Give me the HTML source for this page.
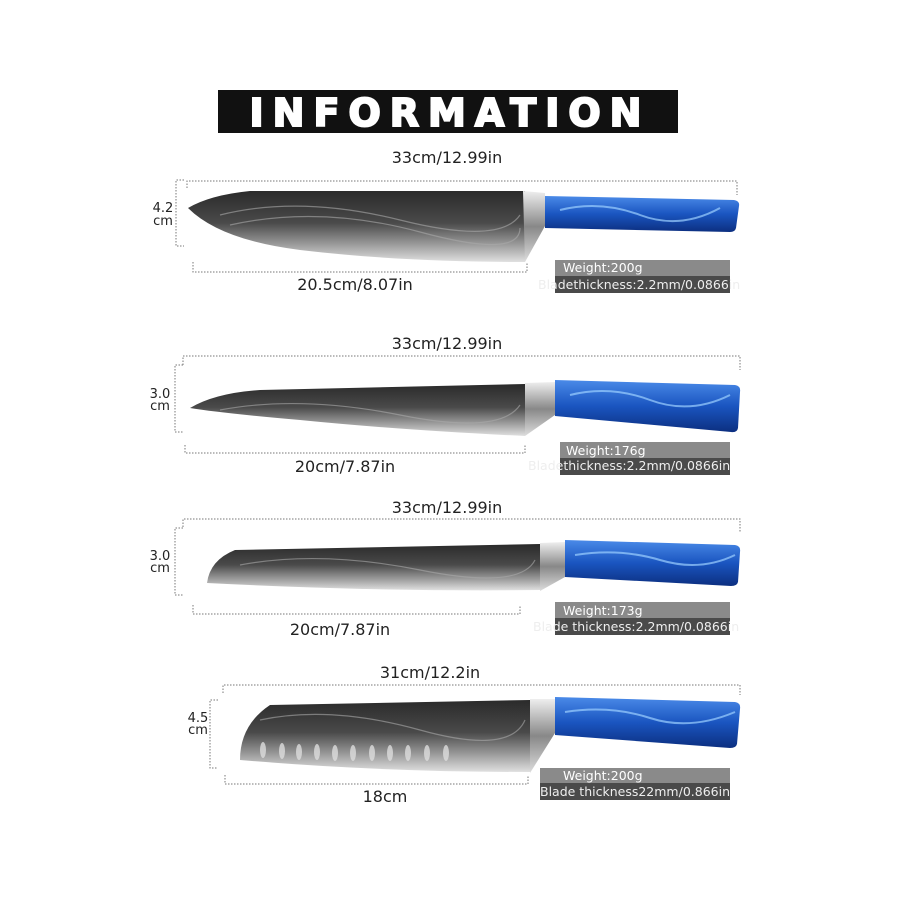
<!DOCTYPE html>
<html><head><meta charset="utf-8"><style>
html,body{margin:0;padding:0;background:#fff;width:900px;height:900px;overflow:hidden}
text{font-family:"DejaVu Sans","Liberation Sans",sans-serif}
</style></head><body>
<svg width="900" height="900" viewBox="0 0 900 900" xmlns="http://www.w3.org/2000/svg">
<defs>
<linearGradient id="bl" x1="0" y1="0" x2="0" y2="1">
<stop offset="0" stop-color="#2a2a2a"/><stop offset="0.45" stop-color="#4a4a4a"/><stop offset="0.75" stop-color="#9a9a9a"/><stop offset="1" stop-color="#e0e0e0"/></linearGradient>
<linearGradient id="hd" x1="0" y1="0" x2="0" y2="1">
<stop offset="0" stop-color="#4a8ae8"/><stop offset="0.5" stop-color="#1a55c0"/><stop offset="1" stop-color="#0c2f80"/></linearGradient>
<linearGradient id="bo" x1="0" y1="0" x2="0" y2="1">
<stop offset="0" stop-color="#eee"/><stop offset="0.5" stop-color="#888"/><stop offset="1" stop-color="#ddd"/></linearGradient>
</defs>
<rect x="218" y="90" width="460" height="43" fill="#111"/>
<text x="450" y="126" text-anchor="middle" fill="#fff" font-size="38" font-weight="900" letter-spacing="9" stroke="#fff" stroke-width="2">INFORMATION</text>

<g fill="none" stroke="#777" stroke-width="1" stroke-dasharray="1.5,1.5">
<path d="M187 188V181H737V195"/><path d="M184 180H176V246H184"/><path d="M193 262V272H527V262"/>
<path d="M183 365V356H740V370"/><path d="M183 365H175V432H183"/><path d="M185 445V453H525V445"/>
<path d="M183 527V519H740V533"/><path d="M183 528H175V595H183"/><path d="M193 605V614H520V605"/>
<path d="M223 693V685H740V695"/><path d="M218 700H210V768H218"/><path d="M225 775V784H528V775"/>
</g>
<g font-size="16" fill="#222">
<text x="447" y="163" text-anchor="middle">33cm/12.99in</text>
<text x="355" y="290" text-anchor="middle">20.5cm/8.07in</text>
<text x="447" y="349" text-anchor="middle">33cm/12.99in</text>
<text x="345" y="472" text-anchor="middle">20cm/7.87in</text>
<text x="447" y="513" text-anchor="middle">33cm/12.99in</text>
<text x="340" y="635" text-anchor="middle">20cm/7.87in</text>
<text x="430" y="678" text-anchor="middle">31cm/12.2in</text>
<text x="385" y="802" text-anchor="middle">18cm</text>
</g>
<g font-size="13" fill="#222" text-anchor="middle">
<text x="163" y="212">4.2</text><text x="163" y="225">cm</text>
<text x="160" y="398">3.0</text><text x="160" y="410">cm</text>
<text x="160" y="560">3.0</text><text x="160" y="572">cm</text>
<text x="198" y="722">4.5</text><text x="198" y="734">cm</text>
</g>

<path d="M188 208Q210 195 250 191L525 191L525 262Q400 262 300 250Q220 240 188 208Z" fill="url(#bl)"/>
<path d="M523 191L545 193L545 226L525 262Z" fill="url(#bo)"/>
<path d="M545 196L734 200Q740 201 739 206L736 228Q735 232 730 232L545 228Z" fill="url(#hd)"/>
<path d="M190 408Q215 393 260 390L525 384L525 436Q400 430 300 420Q220 413 190 408Z" fill="url(#bl)"/>
<path d="M525 383L555 382L555 415L525 436Z" fill="url(#bo)"/>
<path d="M555 380L735 385Q741 386 740 392L738 428Q737 433 731 432L555 416Z" fill="url(#hd)"/>
<path d="M207 583Q210 560 235 550L540 544L540 590Q380 592 207 583Z" fill="url(#bl)"/>
<path d="M540 543L565 542L565 577L540 591Z" fill="url(#bo)"/>
<path d="M565 540L735 545Q741 546 740 552L738 582Q737 586 731 586L565 577Z" fill="url(#hd)"/>
<path d="M240 760Q240 725 270 705L530 700L530 772Q380 772 240 760Z" fill="url(#bl)"/>
<path d="M530 699L555 699L555 733L530 773Z" fill="url(#bo)"/>
<path d="M555 697L735 702Q741 703 740 709L737 744Q736 748 730 748L555 735Z" fill="url(#hd)"/>
<g fill="#ddd" opacity="0.8">
<ellipse cx="263" cy="750" rx="3" ry="8"/><ellipse cx="282" cy="751" rx="3" ry="8"/><ellipse cx="299" cy="752" rx="3" ry="8"/><ellipse cx="317" cy="752" rx="3" ry="8"/><ellipse cx="335" cy="753" rx="3" ry="8"/><ellipse cx="353" cy="753" rx="3" ry="8"/><ellipse cx="372" cy="753" rx="3" ry="8"/><ellipse cx="390" cy="753" rx="3" ry="8"/><ellipse cx="408" cy="753" rx="3" ry="8"/><ellipse cx="427" cy="753" rx="3" ry="8"/><ellipse cx="446" cy="753" rx="3" ry="8"/>
</g>
<g fill="none" stroke="#aaa" stroke-width="1.2" opacity="0.6">
<path d="M220 215Q300 195 400 220T520 215"/><path d="M230 225Q320 205 420 232T520 228"/>
<path d="M220 410Q300 395 400 415T520 405"/><path d="M240 565Q320 550 420 570T535 560"/>
<path d="M260 720Q330 705 420 730T525 720"/>
</g>
<g fill="none" stroke="#9cd0ff" stroke-width="2" opacity="0.7">
<path d="M560 210Q600 200 640 215T720 208"/><path d="M570 395Q610 385 650 400T730 395"/>
<path d="M575 555Q620 548 660 560T735 555"/><path d="M565 712Q610 705 650 718T735 712"/>
</g>

<g font-size="12.5">
<rect x="555" y="260" width="175" height="16" fill="#8a8a8a"/><rect x="555" y="276" width="175" height="17" fill="#4a4a4a"/>
<text x="563" y="272" fill="#fff">Weight:200g</text><text x="538" y="289" fill="#eee">Bladethickness:2.2mm/0.0866in</text>
<rect x="560" y="442" width="170" height="16" fill="#8a8a8a"/><rect x="560" y="458" width="170" height="17" fill="#4a4a4a"/>
<text x="566" y="455" fill="#fff">Weight:176g</text><text x="528" y="470" fill="#eee">Bladethickness:2.2mm/0.0866in</text>
<rect x="555" y="602" width="175" height="16" fill="#8a8a8a"/><rect x="555" y="618" width="175" height="17" fill="#4a4a4a"/>
<text x="563" y="615" fill="#fff">Weight:173g</text><text x="533" y="631" fill="#eee">Blade thickness:2.2mm/0.0866in</text>
<rect x="540" y="768" width="190" height="15" fill="#8a8a8a"/><rect x="540" y="783" width="190" height="17" fill="#4a4a4a"/>
<text x="563" y="780" fill="#fff">Weight:200g</text><text x="540" y="796" fill="#eee">Blade thickness22mm/0.866in</text>
</g>
</svg>
</body></html>
